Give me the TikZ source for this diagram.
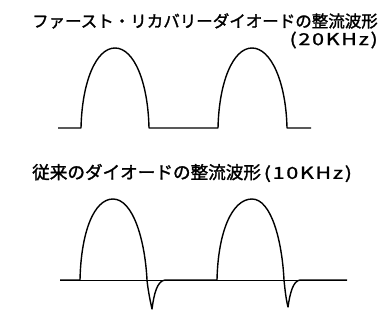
\documentclass[tikz,border=0pt]{standalone}
\usepackage{fontspec}
\newfontfamily\jpfont{Noto Sans CJK JP}[FakeBold=1.6]
\newfontfamily\jpwide{Noto Sans CJK JP}[LetterSpace=8, FakeBold=1.2]
\newcommand\widelatin[1]{\scalebox{1.3}[1]{\jpwide #1}}
\begin{document}
\begin{tikzpicture}[x=1pt, y=-1pt]
    \tikzset{
        wave/.style={line width=1.4pt, line join=round},
        axis/.style={line width=0.8pt},
        caption/.style={font=\jpfont\fontsize{16.5}{18}\selectfont, inner sep=0pt},
        bigcaption/.style={font=\jpfont\fontsize{17.6}{20}\selectfont, inner sep=0pt}
    }
    \useasboundingbox (0,0) rectangle (390,322);

    % Draw captions
    \node[caption, anchor=east] (fasttitle) at (378,21) {ファースト・リカバリーダイオードの整流波形};
    \node[caption, anchor=east] (fastfreq) at (378,40) {\widelatin{(20KHz)}};
    \node[bigcaption, anchor=west] (oldtitle) at (32,173) {従来のダイオードの整流波形\fontsize{16.5}{18}\selectfont\,\widelatin{(10KHz)}};

    % Draw fast recovery waveform
    \draw[wave] (58,128) -- (81,128)
        .. controls (82,82) and (96,48) .. (115,48)
        .. controls (134,48) and (148,82) .. (149,128)
        -- (218,128)
        .. controls (219,82) and (233,48) .. (252,48)
        .. controls (271,48) and (286,82) .. (287,128)
        -- (311,128);

    % Draw conventional waveform
    \draw[axis] (60,280) -- (347,280);
    \draw[wave] (60,280) -- (80,280)
        .. controls (81,232) and (94,199) .. (113,199)
        .. controls (133,199) and (145,240) .. (147,280)
        .. controls (148,290) and (150,300) .. (152,309)
        .. controls (154,294) and (157,281) .. (165,280)
        -- (217,280)
        .. controls (218,232) and (232,199) .. (252,199)
        .. controls (271,199) and (282,240) .. (284,280)
        .. controls (285,290) and (286,299) .. (288,307)
        .. controls (290,293) and (293,281) .. (300,280)
        -- (347,280);
\end{tikzpicture}
\end{document}
